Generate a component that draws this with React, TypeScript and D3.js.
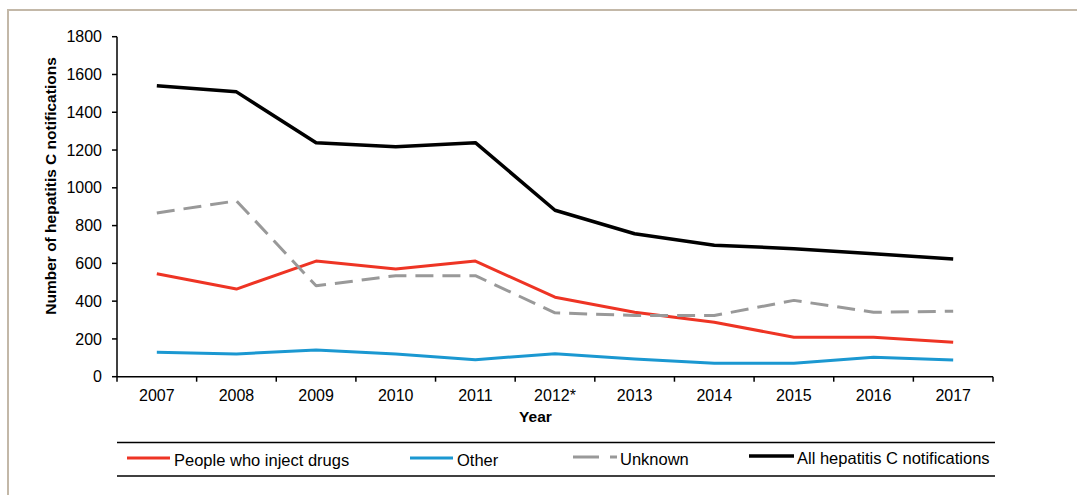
import React from 'react';
import * as d3 from 'd3';

// Notification year categories (2012 flagged with an asterisk)
const years = ['2007', '2008', '2009', '2010', '2011', '2012*', '2013', '2014', '2015', '2016', '2017'];

// Hepatitis C notifications by exposure category
const peopleWhoInjectDrugs = [545, 464, 612, 570, 612, 421, 341, 288, 209, 209, 182];
const other = [129, 120, 142, 120, 90, 122, 94, 71, 71, 103, 88];
const unknown = [867, 931, 481, 535, 535, 338, 324, 324, 404, 341, 347];
const allNotifications = [1540, 1508, 1239, 1218, 1239, 881, 757, 696, 678, 651, 623];

const yTicks = [0, 200, 400, 600, 800, 1000, 1200, 1400, 1600, 1800];

const FONT = '"Liberation Sans", Arial, Helvetica, sans-serif';

const series = [
  { name: 'People who inject drugs', values: peopleWhoInjectDrugs, color: '#ee3424', width: 3, dash: null as string | null },
  { name: 'Other', values: other, color: '#1b98d1', width: 3, dash: null as string | null },
  { name: 'Unknown', values: unknown, color: '#999999', width: 3, dash: '18,9' },
  { name: 'All hepatitis C notifications', values: allNotifications, color: '#000000', width: 3.5, dash: null as string | null },
];

export default function App() {
  const W = 1077;
  const H = 495;
  const x = d3.scaleBand<string>().domain(years).range([117, 993]);
  const y = d3.scaleLinear().domain([0, 1800]).range([376.7, 36.7]);
  const cx = (i: number) => (x(years[i]) as number) + x.bandwidth() / 2;

  const line = d3
    .line<number>()
    .x((_, i) => cx(i))
    .y((d) => y(d));

  const xEdges = years.map((yr) => x(yr) as number).concat([x.range()[1]]);

  const legendItems = [
    { s: series[0], x0: 127, x1: 170, tx: 174, ly: 458 },
    { s: series[1], x0: 410, x1: 453, tx: 457, ly: 458 },
    { s: series[2], x0: 573, x1: 617, tx: 620, ly: 457 },
    { s: series[3], x0: 749, x1: 794, tx: 797, ly: 456 },
  ];

  return (
    <svg
      width={W}
      height={H}
      style={{ position: 'absolute', left: 0, top: 0, background: '#fff' }}
      fontFamily={FONT}
    >
      {/* outer frame */}
      <rect x={8} y={10} width={W + 20} height={H + 20} fill="#fff" stroke="#c3b8a8" strokeWidth={2} />

      {/* y axis */}
      <line x1={117} x2={117} y1={y(1800)} y2={y(0)} stroke="#000" strokeWidth={1.5} />
      {yTicks.map((t) => (
        <g key={t}>
          <line x1={112} x2={117} y1={y(t)} y2={y(t)} stroke="#000" strokeWidth={1.5} />
          <text x={102} y={y(t) + 5.6} textAnchor="end" fontSize={16} fill="#000">
            {t}
          </text>
        </g>
      ))}
      <text
        transform={`translate(56, 186) rotate(-90)`}
        textAnchor="middle"
        fontSize={15.5}
        fontWeight="bold"
        fill="#000"
      >
        Number of hepatitis C notifications
      </text>

      {/* x axis */}
      <line x1={x.range()[0]} x2={x.range()[1]} y1={y(0)} y2={y(0)} stroke="#000" strokeWidth={1.5} />
      {xEdges.map((ex, i) => (
        <line key={i} x1={ex} x2={ex} y1={y(0)} y2={y(0) + 5} stroke="#000" strokeWidth={1.5} />
      ))}
      {years.map((yr, i) => (
        <text key={yr} x={cx(i)} y={401} textAnchor="middle" fontSize={16} fill="#000">
          {yr}
        </text>
      ))}
      <text x={535.5} y={421.5} textAnchor="middle" fontSize={15.5} fontWeight="bold" fill="#000">
        Year
      </text>

      {/* series lines */}
      {series.map((s) => (
        <path
          key={s.name}
          d={line(s.values) || ''}
          fill="none"
          stroke={s.color}
          strokeWidth={s.width}
          strokeDasharray={s.dash || undefined}
          strokeLinejoin="round"
        />
      ))}

      {/* legend */}
      <line x1={117} x2={995} y1={442.5} y2={442.5} stroke="#000" strokeWidth={1.5} />
      <line x1={117} x2={995} y1={476} y2={476} stroke="#000" strokeWidth={1.5} />
      {legendItems.map(({ s, x0, x1, tx, ly }) => (
        <g key={s.name}>
          {s.dash ? (
            <>
              <line x1={x0} x2={x0 + 26} y1={ly} y2={ly} stroke={s.color} strokeWidth={s.width} />
              <line x1={x0 + 37} x2={x1} y1={ly} y2={ly} stroke={s.color} strokeWidth={s.width} />
            </>
          ) : (
            <line x1={x0} x2={x1} y1={ly} y2={ly} stroke={s.color} strokeWidth={s.width} />
          )}
          <text x={tx} y={ly + 7.5} fontSize={16.5} fill="#000">
            {s.name}
          </text>
        </g>
      ))}
    </svg>
  );
}
